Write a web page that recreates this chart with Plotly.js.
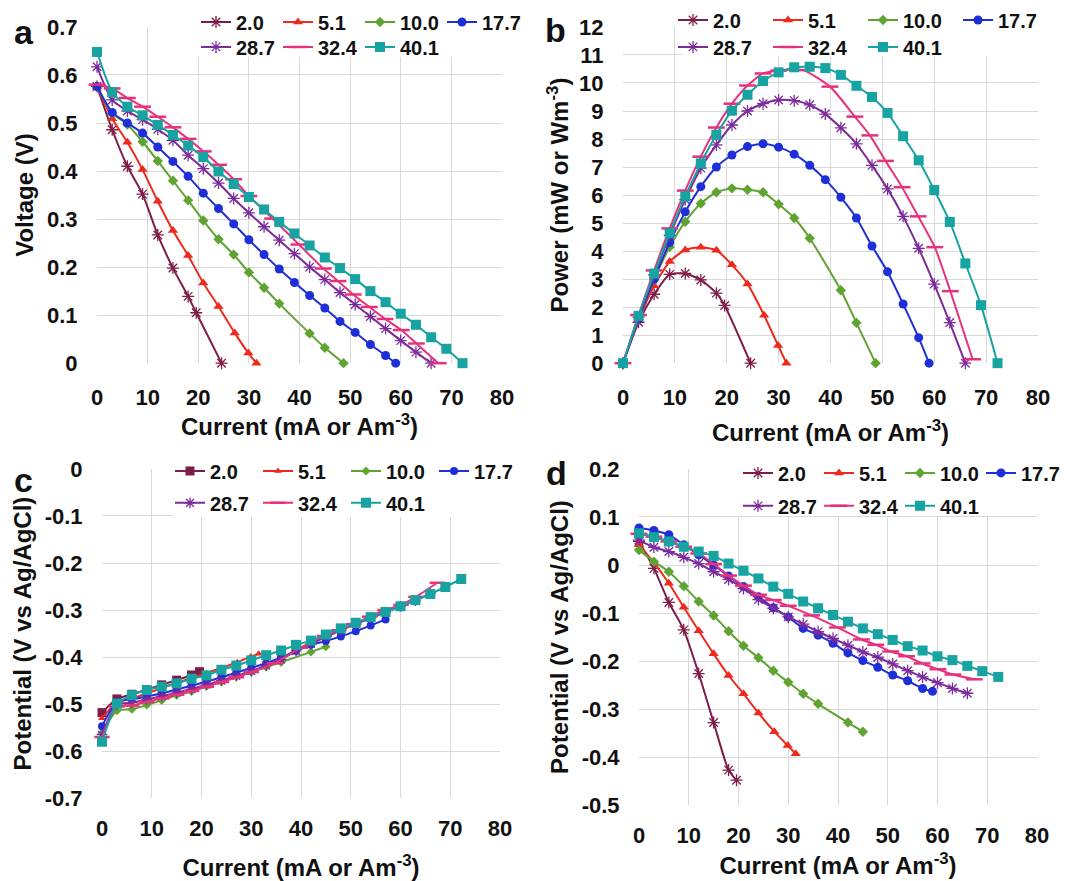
<!DOCTYPE html>
<html><head><meta charset="utf-8">
<script src="https://cdn.plot.ly/plotly-3.0.1.min.js"></script>
<style>html,body{margin:0;padding:0;background:#fff}#chart{width:1071px;height:881px}</style>
</head><body><div id="chart"></div>
<script>
// ---- series labels ----
const seriesNames = ['2.0','5.1','10.0','17.7','28.7','32.4','40.1'];

// ---- currents (mA) for panels a & b ----
const cur20  = [0,3,6,9,12,15,18,19.6,24.6];
const cur51  = [0,3,6,9,12,15,18,21,24,27.2,29.9,31.5];
const cur100 = [0,3,6,9,12,15,18,21,24,27,30,33,36,42,45,48.7];
const cur177 = [0,3,6,9,12,15,18,21,24,27,30,33,36,39,42,45,48,51,54,57,59];
const cur287 = [0,3,6,9,12,15,18,21,24,27,30,33,36,39,42,45,48,51,54,57,60,63,66];
const cur324 = [0,3,6,9,12,15,18,21,24,27,30,34.7,39.9,44.7,47.6,50.6,53.8,56.9,60.1,63.1,67.4];
const cur401 = [0,3,6,9,12,15,18,21,24,27,30,33,36,39,42,45,48,51,54,57,60,63,66,69,72.2];

// ---- panel a: voltage (V) ----
const v20  = [0.576,0.486,0.41,0.352,0.267,0.198,0.139,0.105,0];
const v51  = [0.576,0.509,0.46,0.403,0.337,0.276,0.224,0.167,0.118,0.063,0.021,0];
const v100 = [0.576,0.52,0.497,0.461,0.421,0.38,0.339,0.297,0.258,0.226,0.189,0.157,0.124,0.062,0.032,0];
const v177 = [0.576,0.522,0.5,0.479,0.45,0.42,0.389,0.354,0.322,0.29,0.257,0.226,0.196,0.168,0.141,0.115,0.087,0.064,0.039,0.016,0];
const v287 = [0.617,0.548,0.525,0.507,0.487,0.464,0.433,0.405,0.375,0.343,0.313,0.284,0.256,0.228,0.2,0.174,0.147,0.122,0.097,0.072,0.047,0.023,0];
const v324 = [0.58,0.572,0.552,0.534,0.513,0.491,0.467,0.441,0.413,0.383,0.348,0.301,0.247,0.197,0.171,0.143,0.117,0.092,0.069,0.041,0];
const v401 = [0.648,0.564,0.534,0.516,0.496,0.475,0.453,0.429,0.399,0.373,0.346,0.32,0.294,0.27,0.245,0.22,0.198,0.175,0.15,0.127,0.103,0.08,0.054,0.03,0];

// ---- panel b: power ----
const p20  = [0,1.46,2.46,3.17,3.2,2.97,2.5,2.06,0];
const p51  = [0,1.53,2.76,3.63,4.04,4.14,4.03,3.51,2.83,1.71,0.63,0];
const p100 = [0,1.56,2.98,4.15,5.05,5.7,6.1,6.24,6.19,6.1,5.67,5.18,4.46,2.6,1.44,0];
const p177 = [0,1.57,3.0,4.31,5.4,6.3,7.0,7.43,7.73,7.83,7.71,7.46,7.06,6.55,5.92,5.18,4.18,3.26,2.11,0.91,0];
const p287 = [0,1.64,3.15,4.56,5.84,6.96,7.79,8.5,9.0,9.26,9.39,9.37,9.22,8.89,8.4,7.83,7.06,6.22,5.24,4.1,2.82,1.45,0];
const p324 = [0,1.72,3.31,4.81,6.16,7.37,8.41,9.26,9.91,10.34,10.44,10.46,9.87,8.8,8.13,7.22,6.28,5.24,4.14,2.57,0.14];
const p401 = [0,1.69,3.2,4.64,5.95,7.13,8.15,9.01,9.58,10.07,10.38,10.56,10.58,10.53,10.29,9.9,9.5,8.93,8.1,7.24,6.18,5.04,3.56,2.07,0];

// ---- currents for panels c & d (where they differ) ----
const curCD20  = [0,3,6,9,12,15,18,19.6];
const curCD100 = [0,3,6,9,12,15,18,21,24,27,30,33,36,42,45];
const curC177  = [0,3,6,9,12,15,18,21,24,27,30,33,36,39,42,45,48,51,54,57];

// ---- panel c: anode potential (V vs Ag/AgCl) ----
const c20  = [-0.518,-0.489,-0.479,-0.469,-0.459,-0.449,-0.438,-0.431];
const c51  = [-0.53,-0.497,-0.488,-0.477,-0.466,-0.455,-0.444,-0.434,-0.423,-0.411,-0.399,-0.393];
const c100 = [-0.562,-0.514,-0.511,-0.502,-0.492,-0.481,-0.473,-0.462,-0.453,-0.442,-0.432,-0.421,-0.411,-0.389,-0.378];
const c177 = [-0.547,-0.495,-0.49,-0.484,-0.477,-0.469,-0.461,-0.452,-0.443,-0.433,-0.423,-0.413,-0.401,-0.387,-0.374,-0.366,-0.356,-0.345,-0.333,-0.32];
const c287 = [-0.565,-0.5,-0.497,-0.49,-0.483,-0.476,-0.468,-0.459,-0.45,-0.44,-0.43,-0.418,-0.405,-0.387,-0.372,-0.357,-0.343,-0.33,-0.317,-0.305,-0.292,-0.28,-0.265];
const c324 = [-0.57,-0.505,-0.503,-0.495,-0.488,-0.48,-0.472,-0.463,-0.453,-0.443,-0.432,-0.413,-0.38,-0.355,-0.343,-0.33,-0.314,-0.3,-0.289,-0.272,-0.242];
const c401 = [-0.58,-0.499,-0.481,-0.47,-0.463,-0.456,-0.446,-0.439,-0.427,-0.418,-0.407,-0.396,-0.386,-0.374,-0.365,-0.352,-0.339,-0.327,-0.315,-0.304,-0.292,-0.279,-0.266,-0.251,-0.234];

// ---- panel d: cathode potential (V vs Ag/AgCl) ----
const d20  = [0.049,-0.007,-0.078,-0.135,-0.226,-0.328,-0.427,-0.448];
const d51  = [0.042,0.005,-0.038,-0.088,-0.137,-0.185,-0.23,-0.268,-0.308,-0.347,-0.376,-0.393];
const d100 = [0.031,0.007,-0.014,-0.044,-0.076,-0.105,-0.138,-0.168,-0.193,-0.22,-0.244,-0.268,-0.289,-0.328,-0.347];
const d177 = [0.077,0.072,0.063,0.042,0.021,0.0,-0.023,-0.045,-0.066,-0.089,-0.108,-0.132,-0.146,-0.163,-0.183,-0.199,-0.213,-0.229,-0.241,-0.257,-0.263];
const d287 = [0.052,0.037,0.028,0.016,0.003,-0.014,-0.03,-0.049,-0.072,-0.09,-0.108,-0.123,-0.139,-0.153,-0.167,-0.181,-0.192,-0.206,-0.22,-0.233,-0.245,-0.257,-0.267];
const d324 = [0.065,0.059,0.049,0.038,0.024,0.002,-0.022,-0.043,-0.062,-0.073,-0.085,-0.105,-0.13,-0.155,-0.166,-0.18,-0.19,-0.205,-0.217,-0.228,-0.238];
const d401 = [0.066,0.058,0.049,0.038,0.028,0.019,0.003,-0.012,-0.028,-0.045,-0.06,-0.076,-0.09,-0.104,-0.118,-0.132,-0.144,-0.156,-0.169,-0.178,-0.19,-0.198,-0.21,-0.221,-0.233];

// ---- tick labels ----
const xTickVals = [0,10,20,30,40,50,60,70,80];
const cTickVals = [0,-0.1,-0.2,-0.3,-0.4,-0.5,-0.6,-0.7];
const cTickText = ['0','-0.1','-0.2','-0.3','-0.4','-0.5','-0.6','-0.7'];
const dTickVals = [0.2,0.1,0,-0.1,-0.2,-0.3,-0.4,-0.5];
const dTickText = ['0.2','0.1','0','-0.1','-0.2','-0.3','-0.4','-0.5'];

// ---- styles ----
const W = 1071, H = 881;
const FONT = '"Liberation Sans", Arial, sans-serif';
const GRID = '#d9d9d9';
const TXT = '#111111';
const colors = ['#7f1d4a','#ee2a1f','#5fa332','#1f2fd8','#7c2b9c','#e6327c','#17a3a1'];
const symStd = ['asterisk-open','triangle-up','diamond','circle','asterisk-open','line-ew-open','square'];
const symC   = ['square','triangle-up','diamond','circle','asterisk-open','line-ew-open','square'];
const sizeStd = [10,9,8,9,10,12,10];
const sizeC   = [9,7,7,8,9,11,10];

function mk(xs, ys, i, xa, ya, legs, syms, sizes) {
  const sym = syms[i];
  const open = sym.indexOf('open') >= 0;
  const lw = sym === 'line-ew-open' ? 2.5 : 1.3;
  return {
    x: xs, y: ys, type: 'scatter', mode: 'lines+markers', name: seriesNames[i],
    xaxis: xa, yaxis: ya, legend: i < 4 ? legs[0] : legs[1],
    line: {color: colors[i], width: 2, shape: 'spline', smoothing: 0.6},
    marker: {symbol: sym, size: sizes[i], color: colors[i], line: {color: colors[i], width: open ? lw : 0}},
    cliponaxis: false, hoverinfo: 'skip'
  };
}

const A = [[cur20,v20],[cur51,v51],[cur100,v100],[cur177,v177],[cur287,v287],[cur324,v324],[cur401,v401]];
const B = [[cur20,p20],[cur51,p51],[cur100,p100],[cur177,p177],[cur287,p287],[cur324,p324],[cur401,p401]];
const C = [[curCD20,c20],[cur51,c51],[curCD100,c100],[curC177,c177],[cur287,c287],[cur324,c324],[cur401,c401]];
const D = [[curCD20,d20],[cur51,d51],[curCD100,d100],[cur177,d177],[cur287,d287],[cur324,d324],[cur401,d401]];

const traces = [];
A.forEach((s,i)=>traces.push(mk(s[0],s[1],i,'x','y',['legend','legend2'],symStd,sizeStd)));
B.forEach((s,i)=>traces.push(mk(s[0],s[1],i,'x2','y2',['legend3','legend4'],symStd,sizeStd)));
C.forEach((s,i)=>traces.push(mk(s[0],s[1],i,'x3','y3',['legend5','legend6'],symC,sizeC)));
D.forEach((s,i)=>traces.push(mk(s[0],s[1],i,'x4','y4',['legend7','legend8'],symStd,sizeStd)));

const xTitle = 'Current (mA or Am<sup>-3</sup>)';
function fnt(size){ return {family: FONT, size: size, color: TXT, weight: 700}; }
function xax(x0, x1, anchor, ticklen, standoff) {
  return {domain: [x0/W, x1/W], anchor: anchor, range: [0,80], tickvals: xTickVals,
    showgrid: true, gridcolor: GRID, gridwidth: 1, zeroline: false, showline: false,
    ticks: 'outside', ticklen: ticklen, tickcolor: 'rgba(0,0,0,0)', tickfont: fnt(22),
    title: {text: xTitle, font: fnt(24), standoff: standoff}, automargin: false, fixedrange: true};
}
function yax(y0, y1, anchor, range, extra, title, standoff) {
  const o = {domain: [1-y1/H, 1-y0/H], anchor: anchor, range: range,
    showgrid: true, gridcolor: GRID, gridwidth: 1, zeroline: false, showline: false,
    ticks: 'outside', ticklen: 14, tickcolor: 'rgba(0,0,0,0)', tickfont: fnt(22),
    title: {text: title, font: fnt(24), standoff: standoff}, automargin: false, fixedrange: true};
  return Object.assign(o, extra);
}
function leg(xpx, ypx, ew) {
  return {orientation: 'h', x: xpx/W, y: 1-ypx/H, xanchor: 'left', yanchor: 'middle',
    bgcolor: 'rgba(255,255,255,0)', borderwidth: 0, font: fnt(20),
    entrywidth: ew, entrywidthmode: 'pixels', itemwidth: 30, tracegroupgap: 0, itemclick: false, itemdoubleclick: false};
}
function cover(xa, ya, x0, x1, y0, y1) {
  return {type: 'rect', xref: xa, yref: ya, x0: x0, x1: x1, y0: y0, y1: y1,
    fillcolor: '#ffffff', line: {width: 0}, layer: 'between'};
}
function letter(t, xpx, ypx) {
  return {text: t, xref: 'paper', yref: 'paper', x: xpx/W, y: 1-ypx/H, xanchor: 'center', yanchor: 'middle',
    showarrow: false, font: fnt(34)};
}

const layout = {
  width: W, height: H, margin: {l:0, r:0, t:0, b:0}, paper_bgcolor: '#fff', plot_bgcolor: '#fff',
  font: {family: FONT}, showlegend: true,
  xaxis:  xax(97, 502, 'y', 14, 3),
  yaxis:  yax(25, 362, 'x', [0,0.7], {dtick: 0.1, tick0: 0}, 'Voltage (V)', 6),
  xaxis2: xax(623, 1038, 'y2', 14, 15),
  yaxis2: yax(25, 362, 'x2', [0,12], {dtick: 1, tick0: 0}, 'Power (mW or Wm<sup>-3</sup>)', 3),
  xaxis3: xax(102, 500, 'y3', 10, 22),
  yaxis3: yax(468, 798, 'x3', [-0.7,0], {tickvals: cTickVals, ticktext: cTickText}, 'Potential (V vs Ag/AgCl)', 6),
  xaxis4: xax(639, 1037, 'y4', 10, 10),
  yaxis4: yax(468, 805, 'x4', [-0.5,0.2], {tickvals: dTickVals, ticktext: dTickText}, 'Potential (V vs Ag/AgCl)', 6),
  legend:  leg(196, 20, 37),
  legend2: leg(196, 45, 37),
  legend3: leg(673, 18, 50),
  legend4: leg(673, 45, 50),
  legend5: leg(170, 470, 43),
  legend6: leg(170, 502, 43),
  legend7: leg(738, 472, 36),
  legend8: leg(738, 505, 36),
  shapes: [
    cover('x','y', 18.5, 80, 0.638, 0.7),
    cover('x2','y2', 11.4, 80, 10.95, 12),
    cover('x3','y3', 14.3, 80, -0.102, 0),
    cover('x4','y4', 19.4, 80, 0.102, 0.2)
  ],
  annotations: [letter('a', 24, 30), letter('b', 555, 28), letter('c', 23, 479), letter('d', 556, 472)]
};

Plotly.newPlot('chart', traces, layout, {displayModeBar: false, staticPlot: true});
</script>
</body></html>
